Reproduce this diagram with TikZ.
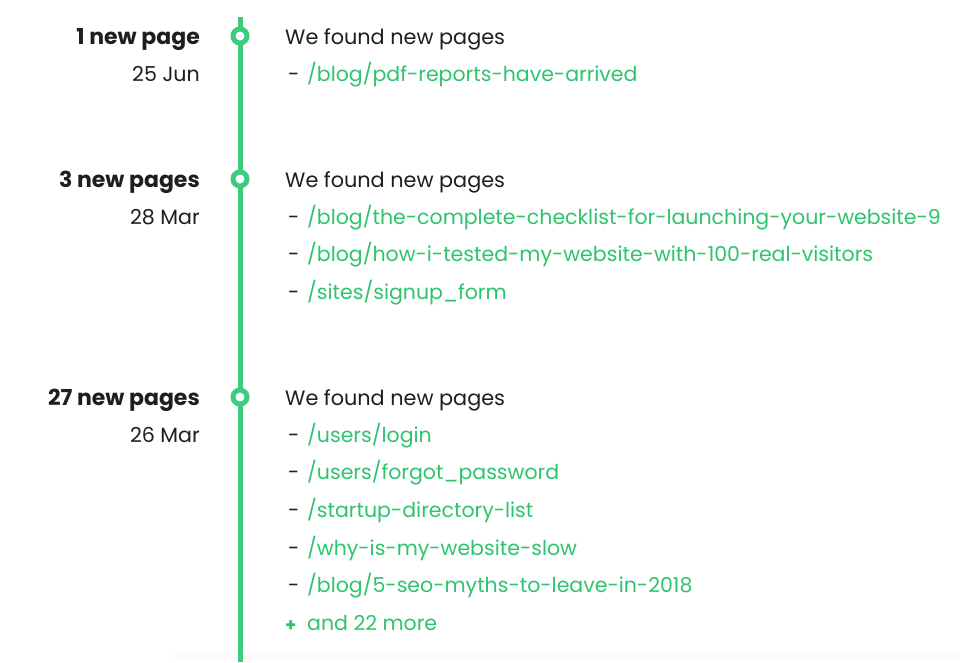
\documentclass[tikz,border=0pt]{standalone}
\usepackage{fontspec}
\setmainfont{Poppins}
\newfontfamily\headfont{Poppins Bold}
\definecolor{tlgreen}{RGB}{61,204,126}
\definecolor{lnkgreen}{RGB}{46,196,110}
\definecolor{txtdark}{RGB}{30,30,30}
\begin{document}
\begin{tikzpicture}[x=1pt,y=-1pt,
  head/.style={anchor=base east,inner sep=0pt,font=\headfont\fontsize{22}{25}\selectfont,text=txtdark},
  date/.style={anchor=base east,inner sep=0pt,font=\fontsize{20.6}{24}\selectfont,text=txtdark},
  found/.style={anchor=base west,inner sep=0pt,font=\fontsize{20.8}{24}\selectfont,text=txtdark},
  dashmark/.style={anchor=base west,inner sep=0pt,font=\fontsize{20.5}{24}\selectfont,text=txtdark},
  plusmark/.style={anchor=base west,inner sep=0pt,font=\headfont\fontsize{18}{22}\selectfont,text=lnkgreen},
  lnk/.style={anchor=base west,inner sep=0pt,font=\fontsize{20.5}{24}\selectfont,text=lnkgreen},
  ring/.style={circle,draw=tlgreen,line width=5pt,fill=white,minimum size=14pt,inner sep=0pt}]
\useasboundingbox (0,0) rectangle (960,662);
\fill[white] (0,0) rectangle (960,662);
\fill[black!1.2] (170,650) rectangle (960,662);
% timeline
\coordinate (top) at (240,17);
\coordinate (bot) at (240,662);
\draw[tlgreen,line width=5pt] (top) -- (bot);
\node[ring] (c1) at (240,36) {};
\node[ring] (c2) at (240,179) {};
\node[ring] (c3) at (240,397) {};
% section 1
\node[head] (h1) at (200,44) {1 new page};
\node[date] (d1) at (200,81) {25 Jun};
\node[found] (f1) at (285,44) {We found new pages};
\node[dashmark] (m11) at (288,81) {-};
\node[lnk] (l11) at (307,81) {/blog/pdf-reports-have-arrived};
% section 2
\node[head] (h2) at (200,187) {3 new pages};
\node[date] (d2) at (200,224) {28 Mar};
\node[found] (f2) at (285,187) {We found new pages};
\node[dashmark] (m21) at (288,224) {-};
\node[lnk] (l21) at (307,224) {/blog/the-complete-checklist-for-launching-your-website-9};
\node[dashmark] (m22) at (288,261) {-};
\node[lnk] (l22) at (307,261) {/blog/how-i-tested-my-website-with-100-real-visitors};
\node[dashmark] (m23) at (288,299) {-};
\node[lnk] (l23) at (307,299) {/sites/signup\_form};
% section 3
\node[head] (h3) at (200,405) {27 new pages};
\node[date] (d3) at (200,442) {26 Mar};
\node[found] (f3) at (285,405) {We found new pages};
\node[dashmark] (m31) at (288,442) {-};
\node[lnk] (l31) at (307,442) {/users/login};
\node[dashmark] (m32) at (288,479) {-};
\node[lnk] (l32) at (307,479) {/users/forgot\_password};
\node[dashmark] (m33) at (288,517) {-};
\node[lnk] (l33) at (307,517) {/startup-directory-list};
\node[dashmark] (m34) at (288,555) {-};
\node[lnk] (l34) at (307,555) {/why-is-my-website-slow};
\node[dashmark] (m35) at (288,592) {-};
\node[lnk] (l35) at (307,592) {/blog/5-seo-myths-to-leave-in-2018};
\node[plusmark] (p36) at (285,631) {+};
\node[lnk] (l36) at (307,630) {and 22 more};
\end{tikzpicture}
\end{document}
